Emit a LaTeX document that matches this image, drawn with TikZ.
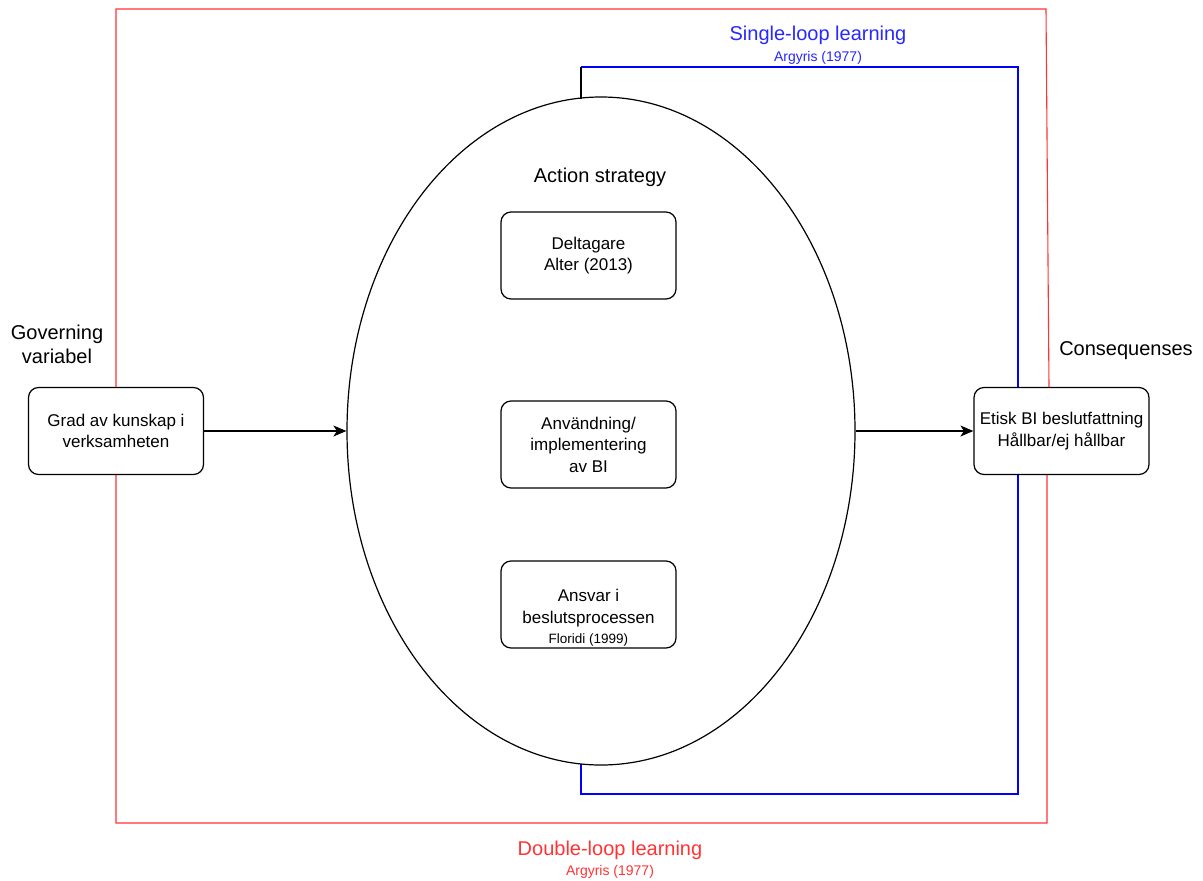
\documentclass[tikz,border=0pt]{standalone}
\usepackage{fontspec}
\setmainfont{Liberation Sans}
\usetikzlibrary{shapes.geometric,arrows.meta}
\definecolor{loopred}{RGB}{255,51,51}
\definecolor{loopblue}{RGB}{0,0,255}
\definecolor{txtblue}{RGB}{40,40,255}
\begin{document}
\begin{tikzpicture}[x=1pt,y=-1pt,
  box/.style={draw, rounded corners=10pt, fill=white, line width=1.2pt,
    minimum width=175pt, minimum height=87pt, align=center, inner sep=2pt,
    font=\fontsize{17}{21.5}\selectfont},
  boxtext/.style={align=center, inner sep=0pt, font=\fontsize{17}{21.5}\selectfont},
  lbl/.style={align=center, inner sep=0pt, font=\fontsize{20}{24}\selectfont},
  small/.style={inner sep=0pt, font=\fontsize{14}{16}\selectfont},
  conn/.style={line width=1.3pt, -{Stealth[length=13pt,width=11pt,inset=3.5pt]}},
  redloop/.style={draw=loopred, line width=1.1pt},
  blueloop/.style={draw=loopblue, line width=1.3pt}]
\useasboundingbox (0,0) rectangle (1203,881);
\fill[white] (0,0) rectangle (1203,881);

% double loop (red)
\coordinate (r1) at (116,9);
\coordinate (r2) at (1046,9);
\coordinate (r3) at (1049,387);
\coordinate (r4) at (1047,474);
\coordinate (r5) at (1047,823);
\coordinate (r6) at (116,823);
\draw[redloop] (r1) -- (r2) -- (r3) -- (r4) -- (r5) -- (r6) -- cycle;

% single loop (blue)
\coordinate (b0) at (581,99);
\coordinate (b1) at (581,67);
\coordinate (b2) at (1018,67);
\coordinate (b3) at (1018,794);
\coordinate (b4) at (581,794);
\coordinate (b5) at (581,762);
\draw[blueloop] (b1) -- (b2) -- (b3) -- (b4) -- (b5);

% action strategy ellipse
\node[ellipse, draw, fill=white, line width=1.2pt, inner sep=0pt,
  minimum width=508pt, minimum height=668pt] (act) at (601,431) {};
\draw[line width=1.2pt] (b0) -- (b1);

\node[lbl] (acttitle) at (600,177) {Action strategy};
\node[box] (delt) at (588.5,255.5) {Deltagare\\Alter (2013)};
\node[box] (anv) at (588.5,444.5) {Användning/\\implementering\\av BI};
\node[box] (ansv) at (588.5,604.5) {};
\node[boxtext, anchor=north] (ansvtext) at (588.5,589) {Ansvar i\\beslutsprocessen\\[-1pt]{\fontsize{13.5}{15}\selectfont Floridi (1999)}};

% governing variable
\node[lbl] (govlbl) at (57,344) {Governing\\variabel};
\node[box] (grad) at (116,431) {Grad av kunskap i\\verksamheten};

% consequences
\node[lbl] (conslbl) at (1126,351) {Consequenses};
\node[box] (etisk) at (1061.5,431) {Etisk BI beslutfattning\\Hållbar/ej hållbar};

% arrows
\draw[conn] (grad.east) -- (act.west);
\draw[conn] (act.east) -- (etisk.west);

% loop labels
\node[lbl, text=txtblue] (single) at (818,35) {Single-loop learning};
\node[small, text=txtblue] (singleref) at (818,58) {Argyris (1977)};
\node[lbl, text=loopred] (double) at (610,850) {Double-loop learning};
\node[small, text=loopred] (doubleref) at (610,872) {Argyris (1977)};
\end{tikzpicture}
\end{document}
